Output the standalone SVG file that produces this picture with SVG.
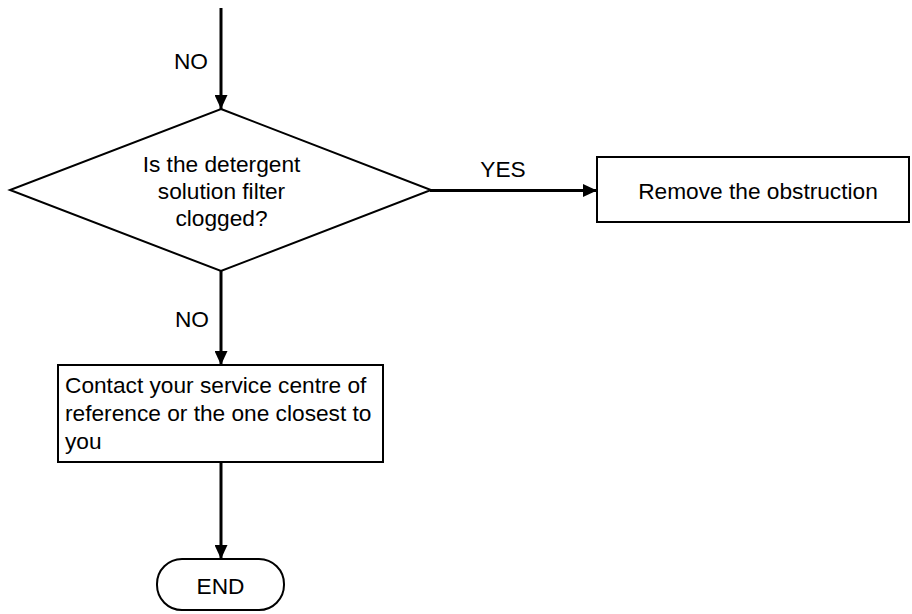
<svg xmlns="http://www.w3.org/2000/svg" width="912" height="614" viewBox="0 0 912 614">
<style>
  .shape { fill: #ffffff; stroke: #000000; stroke-width: 2; }
  .conn { stroke: #000000; stroke-width: 3; fill: none; }
  text { font-family: "Liberation Sans", Arial, sans-serif; font-size: 22.7px; fill: #000000; }
  .c { text-anchor: middle; }
</style>
<defs>
  <marker id="arrow" markerWidth="14" markerHeight="13" refX="14" refY="6.5" orient="auto" markerUnits="userSpaceOnUse">
    <path d="M0,0 L14,6.5 L0,13 Z" fill="#000000"/>
  </marker>
</defs>
<rect width="912" height="614" fill="#ffffff"/>
<g id="connectors">
  <line class="conn" x1="221" y1="8" x2="221" y2="109" marker-end="url(#arrow)"/>
  <line class="conn" x1="430" y1="190.5" x2="597" y2="190.5" marker-end="url(#arrow)"/>
  <line class="conn" x1="221" y1="270" x2="221" y2="365" marker-end="url(#arrow)"/>
  <line class="conn" x1="221" y1="462" x2="221" y2="559" marker-end="url(#arrow)"/>
  <text class="c" x="191" y="69">NO</text>
  <text class="c" x="503" y="177">YES</text>
  <text class="c" x="192" y="327">NO</text>
</g>
<g id="decision">
  <polygon class="shape" points="221,109 431,190 221,271 10,190"/>
  <text class="c" x="221.5" y="172">Is the detergent</text>
  <text class="c" x="221.5" y="199">solution filter</text>
  <text class="c" x="221.5" y="226">clogged?</text>
</g>
<g id="remove">
  <rect class="shape" x="597" y="157" width="312" height="65"/>
  <text class="c" x="758" y="199">Remove the obstruction</text>
</g>
<g id="contact">
  <rect class="shape" x="58" y="365" width="325" height="97"/>
  <text x="65" y="393">Contact your service centre of</text>
  <text x="65" y="421">reference or the one closest to</text>
  <text x="65" y="449">you</text>
</g>
<g id="end">
  <rect class="shape" x="157" y="559" width="127" height="51" rx="25" ry="25"/>
  <text class="c" x="220.5" y="594">END</text>
</g>
</svg>
